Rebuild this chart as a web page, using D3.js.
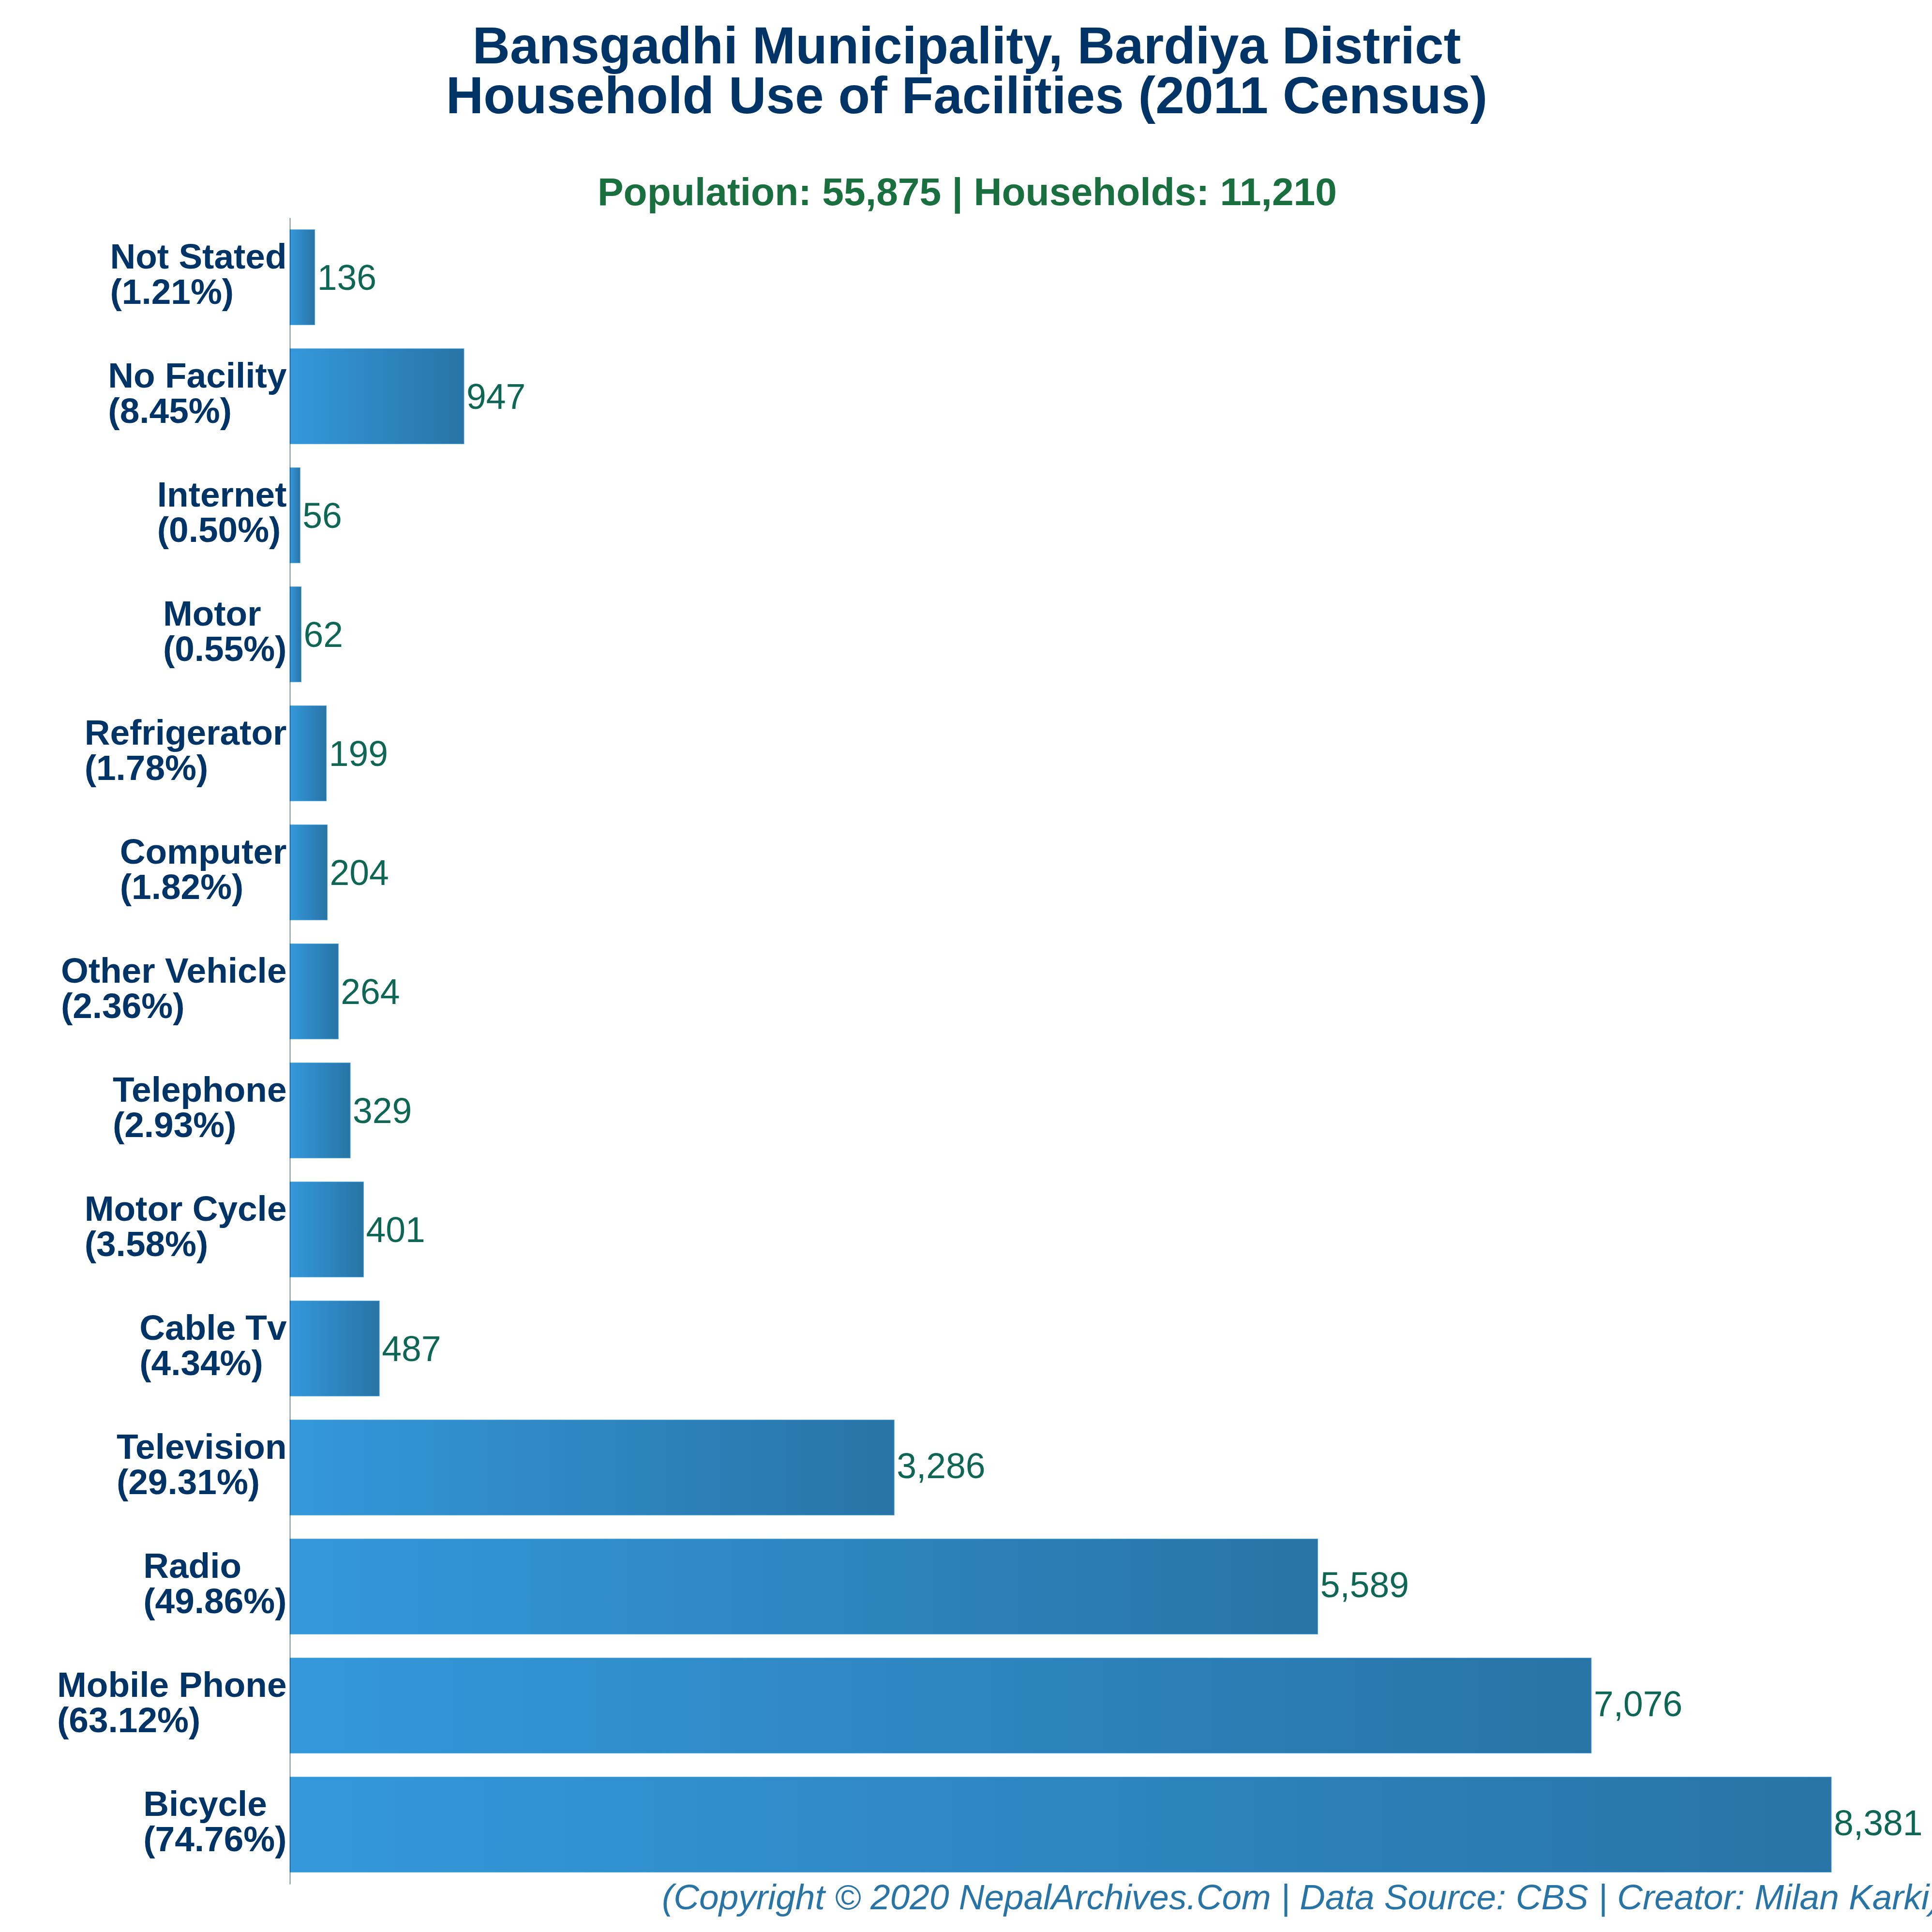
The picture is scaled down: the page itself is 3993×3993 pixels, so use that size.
<!DOCTYPE html>
<html>
<head>
<meta charset="utf-8">
<script src="https://cdn.jsdelivr.net/npm/d3@7"></script>
<style>
    html, body { margin: 0; padding: 0; background: #fff; }
    text { font-family: "Liberation Sans", Arial, sans-serif; }
</style>
</head>
<body>
<svg id="chart" width="3993" height="3993"></svg>
<script>
// Data, top row of the chart first
let categories = ['Not Stated', 'No Facility', 'Internet', 'Motor', 'Refrigerator', 'Computer', 'Other Vehicle',
    'Telephone', 'Motor Cycle', 'Cable Tv', 'Television', 'Radio', 'Mobile Phone', 'Bicycle'];
let households = [136, 947, 56, 62, 199, 204, 264, 329, 401, 487, 3286, 5589, 7076, 8381];
let percents = ['1.21', '8.45', '0.50', '0.55', '1.78', '1.82', '2.36', '2.93', '3.58', '4.34', '29.31', '49.86', '63.12', '74.76'];

let titleLines = ['Bansgadhi Municipality, Bardiya District', 'Household Use of Facilities (2011 Census)'];
let subtitle = 'Population: 55,875 | Households: 11,210';
let footer = '(Copyright © 2020 NepalArchives.Com | Data Source: CBS | Creator: Milan Karki)';

let svg = d3.select('#chart');

// Scales
let x = d3.scaleLinear().domain([0, 8381]).range([599, 3785]);
let y = d3.scaleBand().domain(categories).range([450, 3894]).paddingInner(0.2).paddingOuter(0.1);

// Bar gradient
let gradient = svg.append('defs').append('linearGradient').attr('id', 'bar-fill');
gradient.append('stop').attr('offset', '0%').attr('stop-color', '#3498db');
gradient.append('stop').attr('offset', '100%').attr('stop-color', '#2874a6');

// Titles
svg.selectAll('.title-line')
    .data(titleLines)
    .join('text')
    .attr('class', 'title-line')
    .attr('x', 1998)
    .attr('y', (d, i) => 131 + i * 103)
    .attr('text-anchor', 'middle')
    .attr('font-size', 107.3)
    .attr('font-weight', 'bold')
    .attr('fill', '#003366')
    .text(d => d);

svg.append('text')
    .attr('x', 1999)
    .attr('y', 424)
    .attr('text-anchor', 'middle')
    .attr('font-size', 80.4)
    .attr('font-weight', 'bold')
    .attr('fill', '#196f3d')
    .text(subtitle);

// Bars
svg.selectAll('.bar')
    .data(categories)
    .join('rect')
    .attr('class', 'bar')
    .attr('x', x(0))
    .attr('y', d => y(d))
    .attr('width', (d, i) => x(households[i]) - x(0))
    .attr('height', y.bandwidth())
    .attr('fill', 'url(#bar-fill)')
    .attr('stroke', '#5dade2')
    .attr('stroke-width', 1);

// Axis line only, labels are drawn below
let axis = svg.append('g')
    .attr('transform', `translate(${x(0)},0)`)
    .call(d3.axisLeft(y).tickSize(0).tickFormat(''));
axis.select('.domain').attr('stroke', '#003366').attr('stroke-width', 1);

// Value labels, the ones with a comma sit a little higher in the original
svg.selectAll('.value')
    .data(categories)
    .join('text')
    .attr('class', 'value')
    .attr('x', (d, i) => x(households[i]) + 5)
    .attr('y', (d, i) => y(d) + y.bandwidth() / 2 + (households[i] >= 1000 ? 22 : 26))
    .attr('font-size', 73.3)
    .attr('fill', '#0e6655')
    .text((d, i) => d3.format(',')(households[i]));

// Category labels, two left-aligned lines in a block that ends at the axis
let labels = svg.selectAll('.label')
    .data(categories)
    .join('text')
    .attr('class', 'label')
    .attr('font-size', 73)
    .attr('font-weight', 'bold')
    .attr('fill', '#003366');

labels.each(function (d, i) {
    let label = d3.select(this);
    let center = y(d) + y.bandwidth() / 2;
    label.append('tspan').attr('y', center - 18).text(d);
    label.append('tspan').attr('y', center + 55).text(`(${percents[i]}%)`);
    let widest = d3.max(label.selectAll('tspan').nodes(), n => n.getComputedTextLength());
    label.selectAll('tspan').attr('x', 592.5 - widest);
});

// Footer runs off the right edge like the original
svg.append('text')
    .attr('x', 1368)
    .attr('y', 3946)
    .attr('font-size', 73)
    .attr('font-style', 'italic')
    .attr('fill', '#2874a6')
    .text(footer);
</script>
</body>
</html>
